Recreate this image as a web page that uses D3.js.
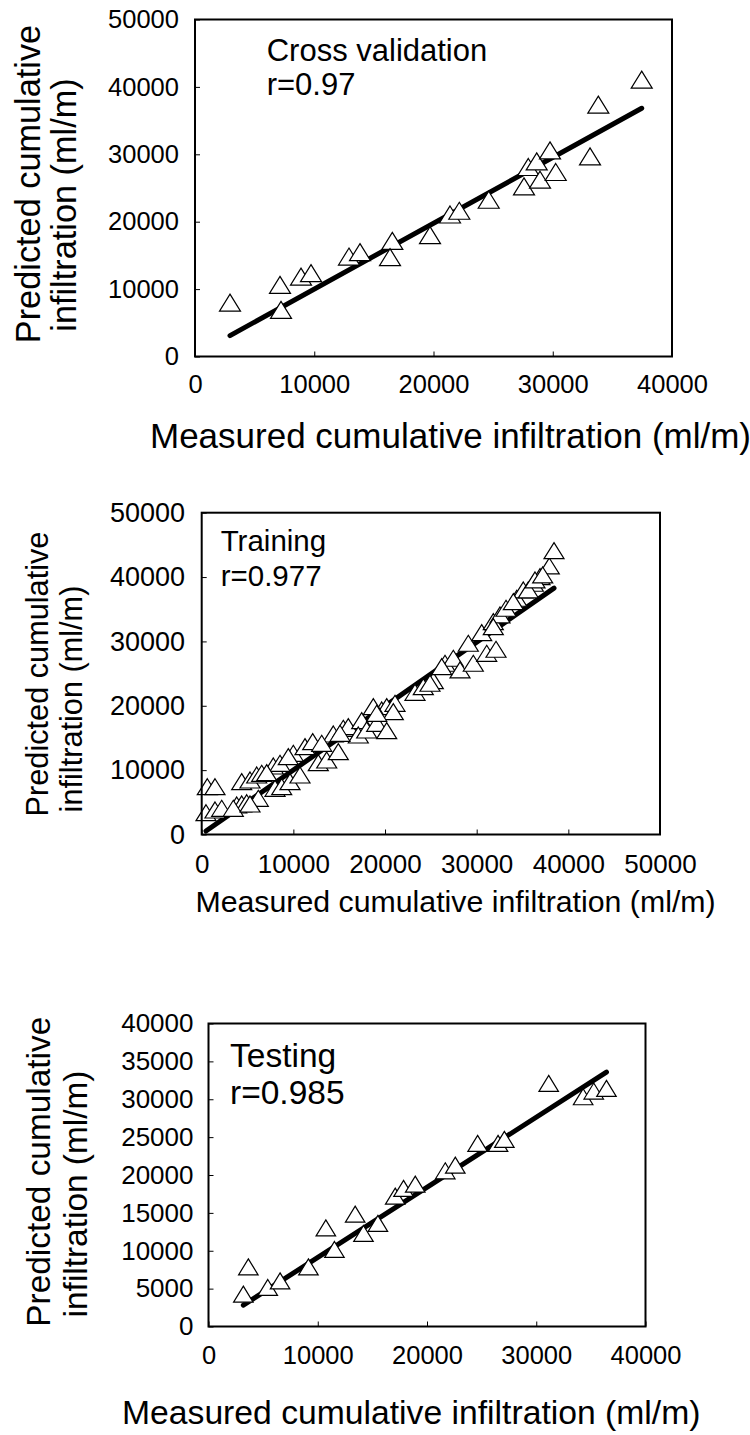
<!DOCTYPE html>
<html>
<head>
<meta charset="utf-8">
<script src="https://cdn.jsdelivr.net/npm/d3@7/dist/d3.min.js"></script>
<style>
body { margin: 0; background: #fff; }
svg { display: block; }
text { font-family: "Liberation Sans", Arial, sans-serif; fill: #000; }
</style>
</head>
<body>
<svg id="chart" width="750" height="1435"></svg>
<script>
// cross validation
var cvMeasured = [2935, 7128, 7212, 8889, 9728, 12914, 13837, 16546, 16353, 19707, 21384,
  22164, 24630, 27590, 27950, 28655, 28932, 29770, 30248, 33125, 33821, 37460];
var cvPredicted = [7995, 10625, 6910, 11858, 12364, 14830, 15484, 17163, 14741, 18010, 21071,
  21621, 23256, 25232, 28115, 28947, 26228, 30582, 27372, 29690, 37373, 41087];
var cvFit = [0.9768, 233]; // slope, intercept

// training
var trMeasured = [611, 1451, 469, 1451, 2182, 3819, 4364, 4910, 6175, 4364, 5270, 6000, 6546,
  7812, 8543, 8000, 8728, 9634, 10725, 9995, 11270, 12110, 12721, 13638, 14903, 14357, 15449,
  15994, 17456, 17085, 18002, 19093, 20184, 19639, 20184, 21089, 20904, 23271, 24177, 25268,
  26544, 27451, 28182, 29632, 29087, 30548, 31094, 32109, 31814, 32545, 33200, 34367, 35087,
  36178, 36909, 37924, 38437, 3448, 5270, 7091, 9448, 13092, 15089, 18722, 19093, 24908,
  26184, 31814, 34000, 35633, 36363, 37203];
var trPredicted = [7428, 7428, 3388, 3807, 4071, 4584, 4740, 4942, 5626, 8205, 8469, 9246, 9510,
  10645, 11065, 7180, 7428, 8205, 9246, 12618, 13644, 14421, 11158, 11577, 12867, 15618, 16503,
  16752, 17684, 15462, 16239, 17280, 16130, 19347, 19860, 20389, 19083, 22098, 22968, 23900,
  26605, 27383, 25564, 26605, 29713, 31361, 28158, 28780, 33069, 34110, 35151, 36705, 37995,
  39036, 40061, 41725, 44103, 4071, 4740, 9604, 12090, 14173, 15727, 19860, 18835, 23497,
  26076, 32292, 36177, 37995, 39549, 40326];
var trFit = [0.994, 77];

// testing
var teMeasured = [3189, 3647, 5425, 6552, 9146, 10740, 11528, 13425, 14186, 15506, 17091,
  17852, 18924, 21673, 22590, 24633, 26503, 27080, 31140, 34292, 35263, 36427];
var tePredicted = [4267, 7873, 5152, 6024, 7873, 13025, 10172, 14835, 12285, 13606, 17213,
  18230, 18798, 20555, 21308, 24174, 24174, 24702, 32100, 30331, 31083, 31440];
var teFit = [0.9254, -137];

var ticks40k = [0, 10000, 20000, 30000, 40000];
var ticks50k = [0, 10000, 20000, 30000, 40000, 50000];
var ticks40kBy5k = [0, 5000, 10000, 15000, 20000, 25000, 30000, 35000, 40000];

var xTitle = "Measured cumulative infiltration (ml/m)";
var yTitle = ["Predicted cumulative", "infiltration (ml/m)"];

var svg = d3.select("#chart");

function triangle(w, h) {
  return "M0," + (-h / 2) + "L" + (w / 2) + "," + (h / 2) + "L" + (-w / 2) + "," + (h / 2) + "Z";
}

function drawPanel(p) {
  var g = svg.append("g");
  var x = d3.scaleLinear().domain(p.xDomain).range([p.left, p.right]);
  var y = d3.scaleLinear().domain(p.yDomain).range([p.bottom, p.top]);

  // fitted line across the measured range
  var xa = d3.min(p.xs), xb = d3.max(p.xs);
  g.append("line")
    .attr("x1", x(xa)).attr("y1", y(p.fit[0] * xa + p.fit[1]))
    .attr("x2", x(xb)).attr("y2", y(p.fit[0] * xb + p.fit[1]))
    .attr("stroke", "#000").attr("stroke-width", 5).attr("stroke-linecap", "round");

  g.selectAll("path.pt").data(d3.range(p.xs.length)).join("path")
    .attr("class", "pt")
    .attr("d", triangle(p.triW, p.triH))
    .attr("transform", function(i) { return "translate(" + x(p.xs[i]) + "," + y(p.ys[i]) + ")"; })
    .attr("fill", "#fff").attr("stroke", "#000").attr("stroke-width", 1.2);

  var xa_g = g.append("g").attr("transform", "translate(0," + p.bottom + ")")
    .call(d3.axisBottom(x).tickValues(p.xTicks).tickSizeInner(-5).tickSizeOuter(0)
      .tickPadding(p.xPad).tickFormat(d3.format("d")));
  xa_g.select(".domain").remove();
  xa_g.attr("font-size", p.xFont).attr("font-family", null);

  var ya_g = g.append("g").attr("transform", "translate(" + p.left + ",0)")
    .call(d3.axisLeft(y).tickValues(p.yTicks).tickSizeInner(-5).tickSizeOuter(0)
      .tickPadding(p.yPad).tickFormat(d3.format("d")));
  ya_g.select(".domain").remove();
  ya_g.attr("font-size", p.yFont).attr("font-family", null);
  g.selectAll(".tick line").attr("stroke", "#000");

  g.append("rect")
    .attr("x", p.left).attr("y", p.top)
    .attr("width", p.right - p.left).attr("height", p.bottom - p.top)
    .attr("fill", "none").attr("stroke", "#000").attr("stroke-width", 2);

  // panel label
  var lab = g.append("text").attr("font-size", p.labFont);
  p.label.forEach(function(s, i) {
    lab.append("tspan").attr("x", p.labX).attr("y", p.labY + i * p.labGap).text(s);
  });

  g.append("text").attr("x", p.xtX).attr("y", p.xtY)
    .attr("font-size", p.xtFont).text(xTitle);

  p.ytLines.forEach(function(l, i) {
    g.append("text")
      .attr("transform", "translate(" + l[0] + "," + l[1] + ") rotate(-90)")
      .attr("text-anchor", "middle").attr("font-size", p.ytFont)
      .text(yTitle[i]);
  });
}

drawPanel({
  xs: cvMeasured, ys: cvPredicted, fit: cvFit,
  xDomain: [0, 40000], yDomain: [0, 50000], xTicks: ticks40k, yTicks: ticks50k,
  left: 195, right: 672, top: 19.5, bottom: 356.5,
  triW: 21, triH: 17,
  xFont: 25.5, xPad: 18.5, yFont: 25.5, yPad: 16,
  label: ["Cross validation", "r=0.97"], labX: 266.7, labY: 60.7, labGap: 34.3, labFont: 31,
  xtX: 150, xtY: 448, xtFont: 35,
  ytFont: 34.3, ytLines: [[40, 184], [76, 205]]
});

drawPanel({
  xs: trMeasured, ys: trPredicted, fit: trFit,
  xDomain: [0, 50000], yDomain: [0, 50000], xTicks: ticks50k, yTicks: ticks50k,
  left: 201.7, right: 660, top: 512.7, bottom: 834.5,
  triW: 20, triH: 16,
  xFont: 26, xPad: 20.5, yFont: 27, yPad: 16.7,
  label: ["Training", "r=0.977"], labX: 220.7, labY: 551, labGap: 35, labFont: 29.5,
  xtX: 195.4, xtY: 911.7, xtFont: 30.3,
  ytFont: 30.7, ytLines: [[48, 674], [82, 699]]
});

drawPanel({
  xs: teMeasured, ys: tePredicted, fit: teFit,
  xDomain: [0, 40000], yDomain: [0, 40000], xTicks: ticks40k, yTicks: ticks40kBy5k,
  left: 208.5, right: 645.5, top: 1023.5, bottom: 1326.5,
  triW: 19.5, triH: 16,
  xFont: 25.5, xPad: 19.5, yFont: 26, yPad: 15,
  label: ["Testing", "r=0.985"], labX: 230, labY: 1066.7, labGap: 37.3, labFont: 33.5,
  xtX: 122, xtY: 1424, xtFont: 33.7,
  ytFont: 33.4, ytLines: [[50, 1171.7], [87, 1194]]
});
</script>
</body>
</html>
